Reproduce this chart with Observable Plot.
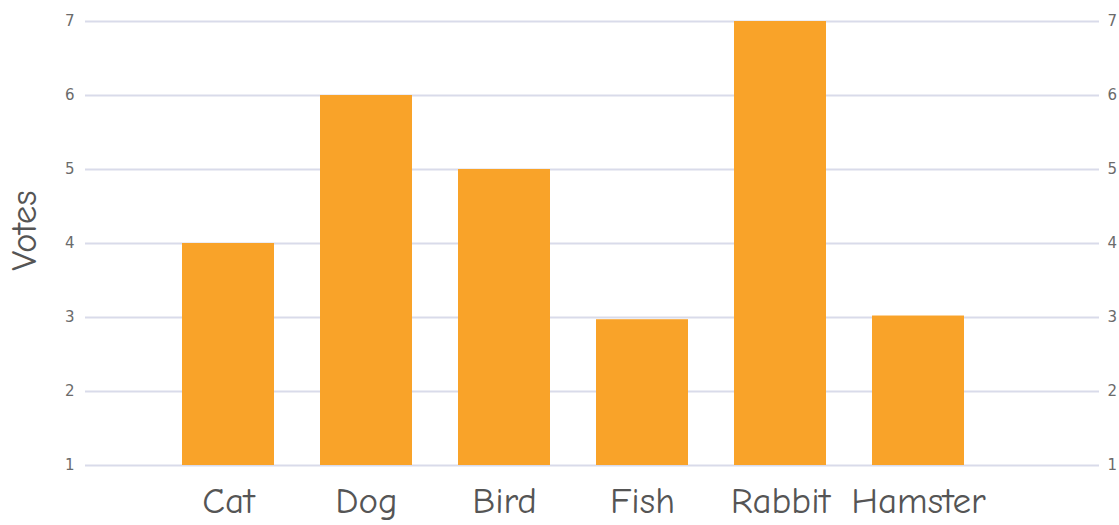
<!DOCTYPE html>
<html>
<head>
<meta charset="utf-8">
<script src="https://cdn.jsdelivr.net/npm/d3@7"></script>
<script src="https://cdn.jsdelivr.net/npm/@observablehq/plot@0.6"></script>
<style>
  html, body { margin: 0; padding: 0; background: #fff; overflow: hidden; }
  #chart { width: 1119px; height: 525px; overflow: hidden; }
  #chart svg { max-width: none !important; }
</style>
</head>
<body>
<div id="chart"></div>
<script>
const pets = ["Cat", "Dog", "Bird", "Fish", "Rabbit", "Hamster"];
const votes = [4, 6, 5, 2.97, 7, 3.02];
const yTicks = [1, 2, 3, 4, 5, 6, 7];
const yLabel = "Votes";

const data = pets.map((p, i) => ({pet: p, votes: votes[i]}));
const font = "'Comic Sans MS', 'Comic Neue', 'DejaVu Sans', sans-serif";

const chart = Plot.plot({
  width: 1140,
  height: 550,
  marginLeft: 85,
  marginRight: 41,
  marginTop: 21,
  marginBottom: 85,
  style: {background: "#fff", overflow: "visible", maxWidth: "none"},
  x: {domain: pets, range: [179.5, 966], paddingInner: 0.33, paddingOuter: 0},
  y: {domain: [1, 7]},
  marks: [
    Plot.ruleY(yTicks, {stroke: "#d9dbea", strokeWidth: 2}),
    Plot.rectY(data, {x: "pet", y1: 1, y2: "votes", fill: "#f9a329"}),
    Plot.axisY(yTicks, {anchor: "left", tickSize: 0, tickPadding: 11, fontSize: 15, color: "#6b6b6b", label: null, tickFormat: "d", fontFamily: "'DejaVu Sans', sans-serif"}),
    Plot.axisY(yTicks, {anchor: "right", tickSize: 0, tickPadding: 8, fontSize: 15, color: "#6b6b6b", label: null, tickFormat: "d", fontFamily: "'DejaVu Sans', sans-serif"}),
    Plot.axisX({tickSize: 0, tickPadding: 21, fontSize: 37, color: "#555", label: null, fontFamily: font}),
    Plot.text([yLabel], {frameAnchor: "left", text: d => d, rotate: -90, dx: -50, dy: -13, textAnchor: "middle", lineAnchor: "bottom", fontSize: 37, fill: "#555", fontFamily: font})
  ]
});
document.getElementById("chart").appendChild(chart);
</script>
</body>
</html>
